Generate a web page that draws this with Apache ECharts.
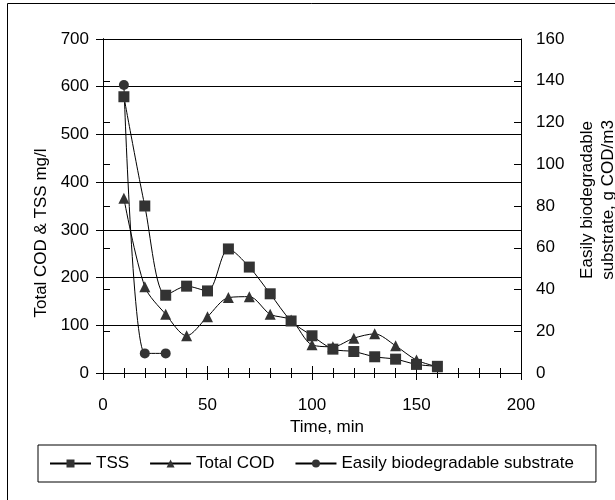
<!DOCTYPE html>
<html>
<head>
<meta charset="utf-8">
<script src="https://cdn.jsdelivr.net/npm/echarts@6/dist/echarts.min.js"></script>
<style>html,body{margin:0;padding:0;background:#fff}#c{width:615px;height:500px}</style>
</head>
<body>
<div id="c"></div>
<script>
var time = [10, 20, 30, 40, 50, 60, 70, 80, 90, 100, 110, 120, 130, 140, 150, 160];
var tss = [579, 350, 163, 182, 172, 260, 222, 166, 109, 78, 50, 45, 34, 29, 18, 14];
var totalCod = [366, 181, 123, 78, 118, 158, 160, 123, 111, 59, 55, 73, 82, 57, 27, 13];
var ebsTime = [10, 20, 30];
var ebs = [138, 9.4, 9.4];

function pairs(xs, ys) { return xs.map(function (x, i) { return [x, ys[i]]; }); }

var F = "'Liberation Sans', Arial, sans-serif";
var FS = 17;
var chart = echarts.init(document.getElementById('c'), null, { renderer: 'canvas' });
var axLine = { show: true, lineStyle: { color: '#000', width: 1 } };
var lineStyle = { color: '#000', width: 1 };

chart.setOption({
  animation: false,
  backgroundColor: '#fff',
  graphic: [{ type: 'rect', shape: { x: 7.5, y: 3.5, width: 620, height: 520 }, style: { fill: 'none', stroke: '#000', lineWidth: 1 }, silent: true }],
  grid: { left: 103, right: 94, top: 39, bottom: 127, outerBoundsMode: 'none', containLabel: false },
  legend: {
    left: 38, top: 445,
    padding: [10, 22, 10, 11],
    borderColor: '#000', borderWidth: 1,
    itemGap: 20, itemWidth: 41, itemHeight: 10,
    textStyle: { fontFamily: F, fontSize: FS, color: '#000' },
    data: ['TSS', 'Total COD', 'Easily biodegradable substrate']
  },
  xAxis: [{
    type: 'value', min: 0, max: 200, interval: 50, position: 'bottom',
    name: 'Time, min', nameLocation: 'middle', nameGap: 35,
    nameTextStyle: { fontFamily: F, fontSize: FS, color: '#000', padding: [0, 0, 0, 30] },
    axisLine: axLine,
    axisTick: { show: true, inside: false, length: 7, lineStyle: lineStyle },
    minorTick: { show: true, splitNumber: 5, length: 5, lineStyle: lineStyle },
    axisLabel: { fontFamily: F, fontSize: FS, color: '#000', margin: 24 },
    splitLine: { show: false }
  }, {
    type: 'value', min: 0, max: 200, interval: 50, position: 'bottom',
    axisLine: axLine,
    axisTick: { show: true, inside: true, length: 7, lineStyle: lineStyle },
    minorTick: { show: true, splitNumber: 5, length: 5, lineStyle: lineStyle },
    axisLabel: { show: false }, splitLine: { show: false }
  }],
  yAxis: [{
    type: 'value', min: 0, max: 700, interval: 100, position: 'left',
    name: 'Total COD & TSS mg/l', nameLocation: 'middle', nameGap: 53, nameRotate: 90,
    nameTextStyle: { fontFamily: F, fontSize: FS, color: '#000', padding: [0, 54, 0, 0] },
    axisLine: axLine,
    axisTick: { show: true, inside: false, length: 7, lineStyle: lineStyle },
    axisLabel: { fontFamily: F, fontSize: FS, color: '#000', margin: 14 },
    splitLine: { show: true, lineStyle: { color: '#000', width: 1 } }
  }, {
    type: 'value', min: 0, max: 160, interval: 20, position: 'right',
    name: 'Easily biodegradable\nsubstrate, g COD/m3', nameLocation: 'middle', nameGap: 56, nameRotate: 90,
    nameTextStyle: { fontFamily: F, fontSize: FS, color: '#000', lineHeight: 21, padding: [0, 0, 0, 12] },
    axisLine: axLine,
    axisTick: { show: true, inside: false, length: 7, lineStyle: lineStyle },
    axisLabel: { fontFamily: F, fontSize: FS, color: '#000', margin: 15 },
    splitLine: { show: false }
  }, {
    type: 'value', min: 0, max: 700, interval: 100, position: 'left',
    axisLine: axLine,
    axisTick: { show: true, inside: true, length: 7, lineStyle: lineStyle },
    axisLabel: { show: false }, splitLine: { show: false }
  }, {
    type: 'value', min: 0, max: 160, interval: 20, position: 'right',
    axisLine: axLine,
    axisTick: { show: true, inside: true, length: 7, lineStyle: lineStyle },
    axisLabel: { show: false }, splitLine: { show: false }
  }],
  series: [{
    name: 'TSS', type: 'line', xAxisIndex: 0, yAxisIndex: 0,
    data: pairs(time, tss), smooth: 0.3,
    symbol: 'rect', symbolSize: 11,
    lineStyle: { color: '#000', width: 1 },
    itemStyle: { color: '#333', borderWidth: 0 }
  }, {
    name: 'Total COD', type: 'line', xAxisIndex: 0, yAxisIndex: 0,
    data: pairs(time, totalCod), smooth: 0.3,
    symbol: 'triangle', symbolSize: 11,
    lineStyle: { color: '#000', width: 1 },
    itemStyle: { color: '#333', borderWidth: 0 }
  }, {
    name: 'Easily biodegradable substrate', type: 'line', xAxisIndex: 0, yAxisIndex: 1,
    data: pairs(ebsTime, ebs), smooth: 0.3,
    symbol: 'circle', symbolSize: 10,
    lineStyle: { color: '#000', width: 1 },
    itemStyle: { color: '#333', borderWidth: 0 }
  }]
});
</script>
</body>
</html>
